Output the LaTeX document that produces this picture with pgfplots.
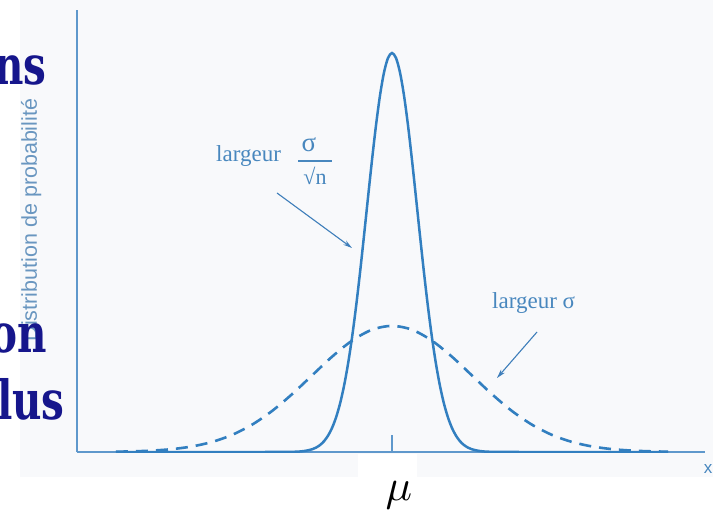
\documentclass[border=0pt]{standalone}
\usepackage{fontspec}
\setmainfont{Liberation Serif}
\newfontfamily\slidefont{DejaVu Serif}
\newfontfamily\labsans{Liberation Sans}
\usepackage{pgfplots}
\pgfplotsset{compat=1.18}
\usetikzlibrary{arrows.meta}

\definecolor{curve}{RGB}{50,127,192}
\definecolor{axisc}{RGB}{95,152,204}
\definecolor{lab}{RGB}{72,135,190}
\definecolor{arrowc}{RGB}{62,126,186}
\definecolor{ylab}{RGB}{105,150,192}
\definecolor{slide}{RGB}{22,22,140}
\definecolor{bgtint}{RGB}{248,249,251}

\begin{document}
\begin{tikzpicture}
% page = 713 x 512 picture pixels; axis corner at pixel (77,452)
\path[use as bounding box, fill=white] (-77pt,-60pt) rectangle (636pt,452pt);
\begin{scope}[x=1pt,y=-1pt,shift={(-77pt,452pt)}]
\fill[bgtint] (20,0) rectangle (713,477);
\fill[white] (358,453.5) rectangle (417,512);
\node[rotate=90, anchor=base, inner sep=0, text=ylab,
      font=\labsans\fontsize{21.5}{22}\selectfont] at (37,220) {Distribution de probabilité};
\end{scope}

\begin{axis}[
  at={(0pt,0pt)}, anchor=south west,
  scale only axis, width=628pt, height=442pt,
  xmin=-3.9375, xmax=3.9125, ymin=0, ymax=1.1078,
  axis x line=bottom, axis y line=left,
  axis line style={-, draw=axisc, line width=1.8pt},
  xtick={0}, xticklabels={}, ytick=\empty,
  tick align=inside, major tick length=17pt,
  tick style={draw=axisc, line width=2.2pt},
]
% narrow distribution, width sigma/sqrt(n)
\addplot[curve, line width=2.5pt, smooth] coordinates {
(-3.45,0) (-1.6,0) (-1.4,0.0001) (-1.2,0.0007) (-1.1,0.0024) (-1.0,0.0067)
(-0.95,0.0110) (-0.9,0.0174) (-0.85,0.0270) (-0.8,0.0408) (-0.75,0.0601)
(-0.7,0.0863) (-0.65,0.1209) (-0.6,0.1653) (-0.55,0.2204) (-0.5,0.2865)
(-0.45,0.3633) (-0.4,0.4493) (-0.35,0.5420) (-0.3,0.6376) (-0.25,0.7316)
(-0.2,0.8187) (-0.15,0.8936) (-0.1,0.9512) (-0.05,0.9876) (0,1)
(0.05,0.9876) (0.1,0.9512) (0.15,0.8936) (0.2,0.8187) (0.25,0.7316)
(0.3,0.6376) (0.35,0.5420) (0.4,0.4493) (0.45,0.3633) (0.5,0.2865)
(0.55,0.2204) (0.6,0.1653) (0.65,0.1209) (0.7,0.0863) (0.75,0.0601)
(0.8,0.0408) (0.85,0.0270) (0.9,0.0174) (0.95,0.0110) (1.0,0.0067)
(1.1,0.0024) (1.2,0.0007) (1.4,0.0001) (1.6,0) (3.45,0)
};
% wide distribution, width sigma
\addplot[curve, line width=2.6pt, smooth, dash pattern=on 12pt off 8pt] coordinates {
(-3.45,0.0008) (-3.25,0.0016) (-3.0,0.0035) (-2.75,0.0072) (-2.5,0.0139)
(-2.25,0.0252) (-2.0,0.0428) (-1.75,0.0684) (-1.5,0.1027) (-1.25,0.1448)
(-1.0,0.1918) (-0.75,0.2387) (-0.5,0.2790) (-0.25,0.3065) (0,0.3162)
(0.25,0.3065) (0.5,0.2790) (0.75,0.2387) (1.0,0.1918) (1.25,0.1448)
(1.5,0.1027) (1.75,0.0684) (2.0,0.0428) (2.25,0.0252) (2.5,0.0139)
(2.75,0.0072) (3.0,0.0035) (3.25,0.0016) (3.45,0.0008)
};
\end{axis}

% annotations, in picture pixels (origin top left)
\begin{scope}[x=1pt,y=-1pt,shift={(-77pt,452pt)}]
\node[anchor=base west, inner sep=0, text=lab, font=\fontsize{23}{23}\selectfont] at (216,162) {largeur};
\node[anchor=base, inner sep=0, text=lab, font=\fontsize{27}{27}\selectfont] at (309,152) {σ};
\draw[lab, line width=1.3pt] (298,161) -- (332,161);
\node[anchor=base, inner sep=0, text=lab, font=\fontsize{22}{22}\selectfont] at (315,185) {√n};
\draw[arrowc, line width=1.1pt, -{Stealth[length=9pt,width=5pt]}] (277,193) -- (352,248);

\node[anchor=base west, inner sep=0, text=lab, font=\fontsize{23}{23}\selectfont] at (492,309) {largeur σ};
\draw[arrowc, line width=1.1pt, -{Stealth[length=9pt,width=5pt]}] (537,332) -- (497,378);

\node[anchor=base, inner sep=0, text=lab, font=\labsans\fontsize{17}{17}\selectfont] at (708,473) {x};
\node[anchor=base, inner sep=0] at (399,501) {\scalebox{4.4}{$\mu$}};

\node[anchor=base east, inner sep=0, text=slide, font=\slidefont\bfseries\fontsize{54}{54}\selectfont] at (47,85) {\scalebox{0.75}[1]{ns}};
\node[anchor=base east, inner sep=0, text=slide, font=\slidefont\bfseries\fontsize{54}{54}\selectfont] at (47,353) {\scalebox{0.75}[1]{on}};
\node[anchor=base east, inner sep=0, text=slide, font=\slidefont\bfseries\fontsize{54}{54}\selectfont] at (65,420) {\scalebox{0.75}[1]{lus}};
\end{scope}
\end{tikzpicture}
\end{document}
